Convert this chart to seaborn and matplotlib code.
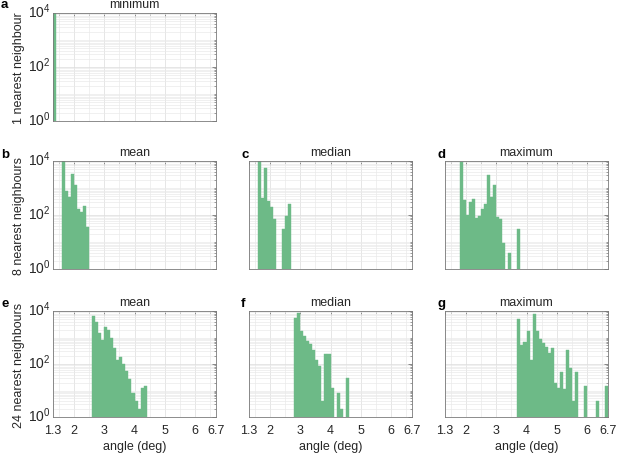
import numpy as np
import pandas as pd
import seaborn as sns
import matplotlib
matplotlib.use("Agg")
import matplotlib.pyplot as plt
from matplotlib.transforms import ScaledTranslation
from matplotlib.ticker import FixedLocator, FixedFormatter, LogLocator, NullFormatter

# histogram bins are 0.1 deg wide, each panel starts at its own first edge
bin_width = 0.1

# 1 nearest neighbour
min1_start = 1.3
min1_counts = [18000]

# 8 nearest neighbours
mean8_start = 1.6
mean8_counts = [9800, 750, 460, 3400, 1300, 170, 125, 220, 35]
median8_start = 1.6
median8_counts = [9800, 420, 5500, 330, 190, 70, 0, 0, 30, 95, 260]
max8_start = 1.8
max8_counts = [9500, 350, 100, 300, 400, 80, 95, 170, 260, 3100,
               450, 1300, 83, 72, 9, 0, 4, 0, 0, 31]

# 24 nearest neighbours
mean24_start = 2.6
mean24_counts = [6500, 4000, 1450, 800, 2400, 1900, 930, 390, 140, 190,
                 100, 55, 28, 8, 4, 2, 12, 15]
median24_start = 2.8
median24_counts = [5300, 8600, 1800, 1100, 720, 550, 330, 140, 85, 4,
                   230, 230, 12, 0, 8, 2, 0, 30]
max24_start = 3.7
max24_counts = [4900, 520, 700, 1700, 140, 7700, 1800, 870, 610, 450,
                250, 390, 20, 12, 50, 11, 340, 70, 4, 50,
                0, 0, 15, 0, 0, 0, 4, 0, 0, 15]

x_ticks = [1.3, 2, 3, 4, 5, 6, 6.7]
x_tick_labels = ["1.3", "2", "3", "4", "5", "6", "6.7"]
y_ticks = [1, 100, 10000]
y_tick_labels = [r"$\mathdefault{10^{0}}$", r"$\mathdefault{10^{2}}$", r"$\mathdefault{10^{4}}$"]

row_labels = ["1 nearest neighbour", "8 nearest neighbours", "24 nearest neighbours"]

bar_color = "#6dba87"
frame_color = "#7a7a7a"

sns.set_theme(style="white")
plt.rcParams['font.family'] = ['Liberation Sans', 'DejaVu Sans']
plt.rcParams['font.size'] = 9
plt.rcParams['text.color'] = '#262626'
plt.rcParams['xtick.color'] = frame_color
plt.rcParams['ytick.color'] = frame_color
plt.rcParams['xtick.labelcolor'] = '#262626'
plt.rcParams['ytick.labelcolor'] = '#262626'

W, H = 617, 456
fig = plt.figure(figsize=(W / 100, H / 100), dpi=100)

col_left = [53, 249, 445]
ax_w = 163
row_top = [14, 162, 312]
row_bot = [122, 270, 418]


def make_ax(row, col):
    l = col_left[col] / W
    b = 1 - row_bot[row] / H
    h = (row_bot[row] - row_top[row]) / H
    return fig.add_axes([l, b, ax_w / W, h])


def draw(ax, start, counts):
    n = len(counts)
    edges = [round(start + bin_width * i, 6) for i in range(n + 1)]
    df = pd.DataFrame({
        "angle": [e + bin_width / 2 for e in edges[:-1]],
        "count": [float(c) for c in counts],
    })
    sns.histplot(data=df, x="angle", weights="count", bins=edges, ax=ax,
                 color=bar_color, alpha=1, edgecolor=bar_color, linewidth=0.3)
    ax.set_yscale('log')
    ax.set_xlim(1.3, 6.7)
    ax.set_ylim(1, 1e4)
    ax.set_xlabel('')
    ax.set_ylabel('')

    ax.xaxis.set_major_locator(FixedLocator(x_ticks))
    ax.xaxis.set_major_formatter(FixedFormatter(x_tick_labels))
    ax.xaxis.set_minor_locator(FixedLocator(np.arange(1.5, 6.7, 0.5)))
    ax.yaxis.set_major_locator(FixedLocator(y_ticks))
    ax.yaxis.set_major_formatter(FixedFormatter(y_tick_labels))
    ax.yaxis.set_minor_locator(LogLocator(base=10, subs=np.arange(1, 10), numticks=20))
    ax.yaxis.set_minor_formatter(NullFormatter())

    ax.grid(True, which='major', color='#dcdcdc', lw=0.5)
    ax.grid(True, which='minor', color='#eaeaea', lw=0.5)
    ax.set_axisbelow(True)
    ax.tick_params(which='both', direction='in', top=True, right=True)
    ax.tick_params(axis='x', labelsize=9, pad=5)
    ax.tick_params(axis='y', labelsize=10, pad=2)
    ax.tick_params(which='major', length=3, width=0.6)
    ax.tick_params(which='minor', length=1.5, width=0.5)
    for s in ax.spines.values():
        s.set_color(frame_color)
        s.set_linewidth(0.6)

    # lift the 10^k labels a little, as in the original
    lift = ScaledTranslation(0, 2.5 / 72, fig.dpi_scale_trans)
    for t in ax.yaxis.get_major_ticks():
        t.label1.set_transform(t.label1.get_transform() + lift)


panels = [
    (0, 0, "a", "minimum", min1_start, min1_counts),
    (1, 0, "b", "mean", mean8_start, mean8_counts),
    (1, 1, "c", "median", median8_start, median8_counts),
    (1, 2, "d", "maximum", max8_start, max8_counts),
    (2, 0, "e", "mean", mean24_start, mean24_counts),
    (2, 1, "f", "median", median24_start, median24_counts),
    (2, 2, "g", "maximum", max24_start, max24_counts),
]

letter_base = [8, 158, 307]

for row, col, letter, title, start, counts in panels:
    ax = make_ax(row, col)
    draw(ax, start, counts)
    ax.set_title(title, fontsize=9, pad=4)
    if col > 0:
        ax.tick_params(labelleft=False)
    if row < 2:
        ax.tick_params(labelbottom=False)
    else:
        ax.set_xlabel("angle (deg)", fontsize=9, labelpad=3)
    lx = 1 / W if col == 0 else (col_left[col] - 8) / W
    fig.text(lx, 1 - letter_base[row] / H, letter, fontsize=9.5,
             fontweight='bold', ha='left', va='baseline', color='black')

for row, lab in enumerate(row_labels):
    yc = 1 - (row_top[row] + row_bot[row]) / 2 / H
    fig.text(19 / W, yc, lab, rotation=90, ha='center', va='center', fontsize=9)

fig.savefig("out.png", dpi=100)
